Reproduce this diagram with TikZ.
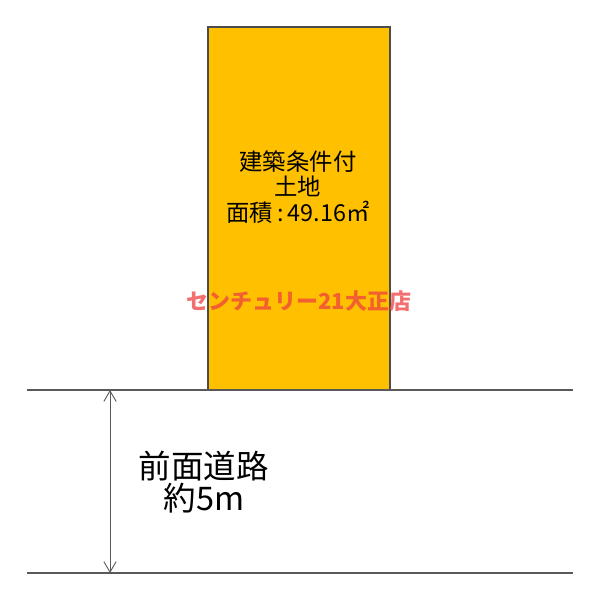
\documentclass[tikz,border=0pt]{standalone}
\usepackage{fontspec}
\setmainfont{Noto Sans CJK JP}
\usetikzlibrary{arrows.meta}
\definecolor{plotorange}{HTML}{FFC000}
\definecolor{roadgray}{HTML}{595959}
\definecolor{markred}{HTML}{F04040}

\begin{document}
\begin{tikzpicture}[x=0.02cm, y=-0.02cm]
            % Frame
            \useasboundingbox[fill=white] (0,0) rectangle (600,600);

            % Plot
            \node[draw=black!70, fill=plotorange, line width=0.6pt, minimum width=182*0.02cm, minimum height=363*0.02cm, inner sep=0pt] (plot) at (299,208.5) {};
            \node[align=center, font=\fontsize{13.3}{14.5}\selectfont] (plotlabel) at (298,187) {建築条件付\\土地\\面積\,:\,49.16㎡};

            % Watermark
            \node[text=markred, opacity=0.75, font=\fontsize{12.5}{14}\selectfont\bfseries] (mark) at (299,301) {センチュリー21大正店};

            % Road edges
            \coordinate (roadtl) at (27,390);
            \coordinate (roadtr) at (573,390);
            \coordinate (roadbl) at (27,573);
            \coordinate (roadbr) at (573,573);
            \draw[roadgray, line width=0.7pt] (roadtl) -- (roadtr);
            \draw[roadgray, line width=0.7pt] (roadbl) -- (roadbr);

            % Width arrow
            \coordinate (arrtop) at (110,390);
            \coordinate (arrbot) at (110,573);
            \draw[{Straight Barb[length=6pt,width=7pt]}-{Straight Barb[length=6pt,width=7pt]}, roadgray, line width=0.5pt] (arrtop) -- (arrbot);

            % Road label
            \node[align=center, font=\fontsize{18.5}{18.5}\selectfont] (roadlabel) at (204,482) {前面道路\\約5m};
        \end{tikzpicture}
\end{document}
